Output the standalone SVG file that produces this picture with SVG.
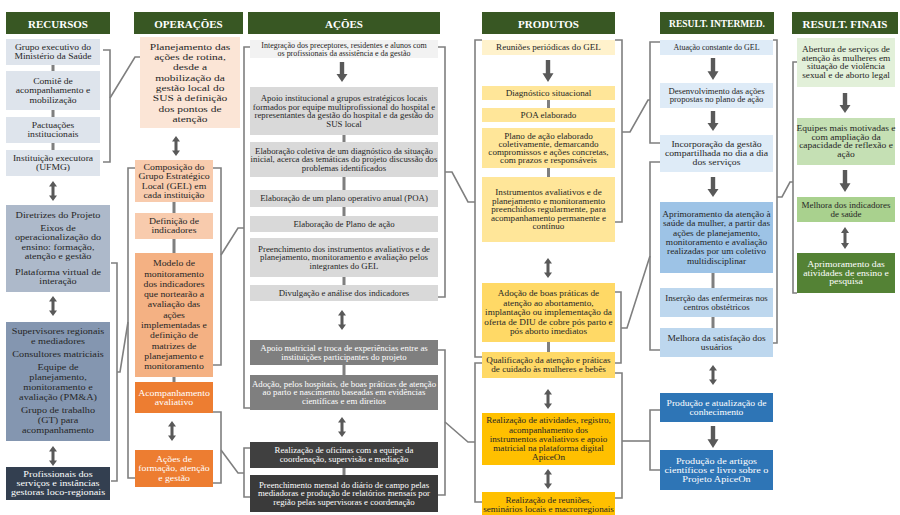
<svg xmlns="http://www.w3.org/2000/svg" width="900" height="515" viewBox="0 0 900 515">
<defs>
<style>
.bx text{font-family:"Liberation Serif","Times New Roman",serif;text-anchor:middle;dominant-baseline:central;fill:#262626}
.bx text.w{fill:#fff}
.hd rect{fill:#385723}
.hd text{font-family:"Liberation Serif","Times New Roman",serif;font-weight:bold;fill:#fff;text-anchor:middle;dominant-baseline:central;font-size:11px}
.fr{font-size:8px}
.fr2{font-size:8.5px}
.fo{font-size:8.5px}
.fa{font-size:7.8px}
.fa1{font-size:7.4px}
.fp{font-size:7.6px}
.fi{font-size:7.4px}
.fi2{font-size:7.8px}
.fi3{font-size:8px}
.ff{font-size:7.5px}
.br path{fill:none;stroke:#7f7f7f;stroke-width:1.6}
.bar{fill:#7f7f7f}
.arr{fill:#595959}
</style>
<path id="dn" d="M-2.2,0H2.2V12H5.5L0,20L-5.5,12H-2.2Z"/>
<path id="dbl" d="M0,0L4,5.5H1.5V14.5H4L0,20L-4,14.5H-1.5V5.5H-4Z"/>
</defs>
<rect width="900" height="515" fill="#fff"/>

<!-- column headers -->
<g id="headers" class="hd">
<g id="h-recursos"><rect x="6" y="12" width="104" height="22"/><text x="58" y="23.5">RECURSOS</text></g>
<g id="h-operacoes"><rect x="134" y="12" width="109" height="22"/><text x="188.5" y="23.5">OPERAÇÕES</text></g>
<g id="h-acoes"><rect x="248" y="12" width="192" height="22"/><text x="344" y="23.5">AÇÕES</text></g>
<g id="h-produtos"><rect x="482" y="12" width="133" height="22"/><text x="548.5" y="23.5">PRODUTOS</text></g>
<g id="h-intermed"><rect x="660" y="12" width="114" height="22"/><text x="717" y="23.5" style="font-size:9.5px">RESULT.  INTERMED.</text></g>
<g id="h-finais"><rect x="792" y="12" width="106" height="22"/><text x="845" y="23.5">RESULT. FINAIS</text></g>
</g>

<!-- connectors: brackets, links, bars and arrows -->
<g id="connectors">
<g class="br">
<path d="M103,50H110V162H103"/>
<path d="M110,98L135,57H140"/>
<path d="M111,263H117V481H111"/>
<path d="M117,372H120L128,322"/>
<path d="M135,168H128V478H135"/>
<path d="M213,168H221V365H213"/>
<path d="M221,255L238,228H244"/>
<path d="M213,412H221V483H213"/>
<path d="M221,450L238,473H244"/>
<path d="M250,47H244V408H250"/>
<path d="M250,448H244V497H250"/>
<path d="M438,47H445V297H438"/>
<path d="M445,172H452L468,202H475"/>
<path d="M438,350H445V495H438"/>
<path d="M445,422L468,442H475"/>
<path d="M482,40H475V357H482"/>
<path d="M482,363H475V502H482"/>
<path d="M615,40H622V222H615"/>
<path d="M622,132H630L648,100H650"/>
<path d="M615,292H621V363H615"/>
<path d="M621,328H627L650,256"/>
<path d="M615,373H622V498H615"/>
<path d="M622,441H650"/>
<path d="M660,42H650V143H660"/>
<path d="M660,162H650V350H660"/>
<path d="M660,410H650V470H660"/>
<path d="M773,40H777V343H773"/>
<path d="M777,197H782L790,182H793"/>
<path d="M797,62H793V293H797"/>
</g>
<g>
<rect class="bar" x="51.5" y="65" width="3" height="6"/>
<rect class="bar" x="51.5" y="110" width="3" height="7"/>
<rect class="bar" x="51.5" y="143" width="3" height="7"/>
<rect class="bar" x="172.5" y="202" width="3" height="11"/>
<rect class="bar" x="172.5" y="239" width="3" height="14"/>
<rect class="bar" x="172.5" y="377" width="3" height="5"/>
<rect class="bar" x="342.5" y="135" width="3" height="7"/>
<rect class="bar" x="342.5" y="177" width="3" height="13"/>
<rect class="bar" x="342.5" y="207" width="3" height="9"/>
<rect class="bar" x="342.5" y="277" width="3" height="8"/>
<rect class="bar" x="342.5" y="365" width="3" height="10"/>
<rect class="bar" x="342.5" y="468" width="3" height="7"/>
<rect class="bar" x="547" y="100" width="3" height="8"/>
<rect class="bar" x="547" y="168" width="3" height="9"/>
<rect class="bar" x="547" y="342" width="3" height="10"/>
<rect class="bar" x="711.5" y="273" width="3" height="15"/>
<rect class="bar" x="711.5" y="317" width="3" height="11"/>
</g>
<g class="arr">
<use href="#dbl" transform="translate(53,181)"/>
<use href="#dbl" transform="translate(53,296)"/>
<use href="#dbl" transform="translate(53,446)"/>
<use href="#dbl" transform="translate(176,136)"/>
<use href="#dbl" transform="translate(172,421)"/>
<use href="#dn" transform="translate(342,62)"/>
<use href="#dbl" transform="translate(342,310)"/>
<use href="#dbl" transform="translate(342,417)"/>
<use href="#dn" transform="translate(548,60) scale(1,1.1)"/>
<use href="#dbl" transform="translate(548,258)"/>
<use href="#dbl" transform="translate(548,389)"/>
<use href="#dbl" transform="translate(548,469)"/>
<use href="#dn" transform="translate(713,58) scale(1,1.1)"/>
<use href="#dn" transform="translate(713,111)"/>
<use href="#dn" transform="translate(713,177)"/>
<use href="#dbl" transform="translate(713,365)"/>
<use href="#dn" transform="translate(713,426) scale(1,1.1)"/>
<use href="#dn" transform="translate(845,93)"/>
<use href="#dn" transform="translate(845,170) scale(1,1.1)"/>
<use href="#dbl" transform="translate(845,227) scale(1,1.1)"/>
</g>
</g>

<!-- RECURSOS -->
<g class="bx">
<g id="r1"><rect x="6" y="39" width="94" height="26" fill="#dee4ec"/><text class="fr" transform="translate(53 0) scale(1.2 1)"><tspan x="0" y="47.5">Grupo executivo do</tspan><tspan x="0" y="56.5">Ministério da Saúde</tspan></text></g>
<g id="r2"><rect x="6" y="71" width="94" height="39" fill="#dee4ec"/><text class="fr" transform="translate(53 0) scale(1.2 1)"><tspan x="0" y="81">Comitê de</tspan><tspan x="0" y="90.5">acompanhamento e</tspan><tspan x="0" y="100">mobilização</tspan></text></g>
<g id="r3"><rect x="6" y="117" width="94" height="26" fill="#dee4ec"/><text class="fr" transform="translate(53 0) scale(1.2 1)"><tspan x="0" y="125.5">Pactuações</tspan><tspan x="0" y="134.5">institucionais</tspan></text></g>
<g id="r4"><rect x="6" y="150" width="94" height="26" fill="#dee4ec"/><text class="fr" transform="translate(53 0) scale(1.2 1)"><tspan x="0" y="158.5">Instituição executora</tspan><tspan x="0" y="167.5">(UFMG)</tspan></text></g>
<g id="r5"><rect x="6" y="205" width="104" height="87" fill="#adb9ca"/><text class="fr2" transform="translate(58 0) scale(1.2 1)"><tspan x="0" y="215">Diretrizes do Projeto</tspan><tspan x="0" y="228">Eixos de</tspan><tspan x="0" y="237.5">operacionalização do</tspan><tspan x="0" y="247">ensino: formação,</tspan><tspan x="0" y="256.5">atenção e gestão</tspan><tspan x="0" y="272">Plataforma virtual de</tspan><tspan x="0" y="281.5">interação</tspan></text></g>
<g id="r6"><rect x="6" y="322" width="104" height="119" fill="#8496b0"/><text class="fr2" transform="translate(58 0) scale(1.2 1)"><tspan x="0" y="331">Supervisores regionais</tspan><tspan x="0" y="341">e mediadores</tspan><tspan x="0" y="354">Consultores matriciais</tspan><tspan x="0" y="367">Equipe de</tspan><tspan x="0" y="377">planejamento,</tspan><tspan x="0" y="387">monitoramento e</tspan><tspan x="0" y="397">avaliação (PM&amp;A)</tspan><tspan x="0" y="410">Grupo de trabalho</tspan><tspan x="0" y="420">(GT) para</tspan><tspan x="0" y="430">acompanhamento</tspan></text></g>
<g id="r7"><rect x="6" y="467" width="104" height="33" fill="#333f50"/><text class="fr2 w" transform="translate(58 0) scale(1.2 1)"><tspan x="0" y="474.5">Profissionais dos</tspan><tspan x="0" y="483.5">serviços e instâncias</tspan><tspan x="0" y="492.5">gestoras loco-regionais</tspan></text></g>
</g>

<!-- OPERAÇÕES -->
<g class="bx">
<g id="o1"><rect x="140" y="37" width="100" height="91" fill="#fbe5d6"/><text class="fo" transform="translate(190 0) scale(1.35 1)"><tspan x="0" y="46.5">Planejamento das</tspan><tspan x="0" y="56.8">ações de rotina,</tspan><tspan x="0" y="67.1">desde a</tspan><tspan x="0" y="77.4">mobilização da</tspan><tspan x="0" y="87.7">gestão local do</tspan><tspan x="0" y="98">SUS à definição</tspan><tspan x="0" y="108.3">dos pontos de</tspan><tspan x="0" y="118.6">atenção</tspan></text></g>
<g id="o2"><rect x="135" y="160" width="78" height="42" fill="#f8cbad"/><text class="fo" transform="translate(174 0) scale(1.15 1)"><tspan x="0" y="166.8">Composição do</tspan><tspan x="0" y="176.3">Grupo Estratégico</tspan><tspan x="0" y="185.8">Local (GEL) em</tspan><tspan x="0" y="195.3">cada instituição</tspan></text></g>
<g id="o3"><rect x="135" y="213" width="78" height="26" fill="#f8cbad"/><text class="fo" transform="translate(174 0) scale(1.15 1)"><tspan x="0" y="221.5">Definição de</tspan><tspan x="0" y="230.5">indicadores</tspan></text></g>
<g id="o4"><rect x="135" y="253" width="78" height="124" fill="#f4b183"/><text class="fo" transform="translate(174 0) scale(1.15 1)"><tspan x="0" y="263.5">Modelo de</tspan><tspan x="0" y="273.8">monitoramento</tspan><tspan x="0" y="284.1">dos indicadores</tspan><tspan x="0" y="294.4">que nortearão a</tspan><tspan x="0" y="304.7">avaliação das</tspan><tspan x="0" y="315">ações</tspan><tspan x="0" y="325.3">implementadas e</tspan><tspan x="0" y="335.6">definição de</tspan><tspan x="0" y="345.9">matrizes de</tspan><tspan x="0" y="356.2">planejamento e</tspan><tspan x="0" y="366.5">monitoramento</tspan></text></g>
<g id="o5"><rect x="135" y="382" width="78" height="31" fill="#ed7d31"/><text class="fo w" transform="translate(174 0) scale(1.15 1)"><tspan x="0" y="393">Acompanhamento</tspan><tspan x="0" y="402">avaliativo</tspan></text></g>
<g id="o6"><rect x="135" y="450" width="78" height="37" fill="#ed7d31"/><text class="fo w" transform="translate(174 0) scale(1.15 1)"><tspan x="0" y="459">Ações de</tspan><tspan x="0" y="468.5">formação, atenção</tspan><tspan x="0" y="478">e gestão</tspan></text></g>
</g>

<!-- AÇÕES -->
<g class="bx">
<g id="a1"><rect x="250" y="40" width="188" height="18" fill="#f2f2f2"/><text class="fa1" transform="translate(344 0) scale(1.08 1)"><tspan x="0" y="45.2">Integração dos preceptores, residentes e alunos com</tspan><tspan x="0" y="52.8">os profissionais da assistência e da gestão</tspan></text></g>
<g id="a2"><rect x="250" y="87" width="188" height="48" fill="#d9d9d9"/><text class="fa" transform="translate(344 0) scale(1.13 1)"><tspan x="0" y="98">Apoio institucional a grupos estratégicos locais</tspan><tspan x="0" y="106.7">formados por equipe multiprofissional do hospital e</tspan><tspan x="0" y="115.4">representantes da gestão do hospital e da gestão do</tspan><tspan x="0" y="124.1">SUS local</tspan></text></g>
<g id="a3"><rect x="250" y="142" width="188" height="35" fill="#d9d9d9"/><text class="fa" transform="translate(344 0) scale(1.13 1)"><tspan x="0" y="150.8">Elaboração coletiva de um diagnóstico da situação</tspan><tspan x="0" y="159.5">inicial, acerca das temáticas do projeto discussão dos</tspan><tspan x="0" y="168.2">problemas identificados</tspan></text></g>
<g id="a4"><rect x="250" y="190" width="188" height="17" fill="#d9d9d9"/><text class="fa" transform="translate(344 0) scale(1.13 1)"><tspan x="0" y="198.5">Elaboração de um plano operativo anual (POA)</tspan></text></g>
<g id="a5"><rect x="250" y="216" width="188" height="16" fill="#d9d9d9"/><text class="fa" transform="translate(344 0) scale(1.13 1)"><tspan x="0" y="224">Elaboração de Plano de ação</tspan></text></g>
<g id="a6"><rect x="250" y="238" width="188" height="39" fill="#d9d9d9"/><text class="fa" transform="translate(344 0) scale(1.13 1)"><tspan x="0" y="248.8">Preenchimento dos instrumentos avaliativos e de</tspan><tspan x="0" y="257.5">planejamento, monitoramento e avaliação  pelos</tspan><tspan x="0" y="266.2">integrantes do GEL</tspan></text></g>
<g id="a7"><rect x="250" y="285" width="188" height="16" fill="#d9d9d9"/><text class="fa" transform="translate(344 0) scale(1.13 1)"><tspan x="0" y="293">Divulgação e análise dos indicadores</tspan></text></g>
<g id="a8"><rect x="250" y="340" width="188" height="25" fill="#7f7f7f"/><text class="fa w" transform="translate(344 0) scale(1.13 1)"><tspan x="0" y="348.2">Apoio matricial e troca de experiências entre as</tspan><tspan x="0" y="356.8">instituições participantes do projeto</tspan></text></g>
<g id="a9"><rect x="250" y="375" width="188" height="35" fill="#7f7f7f"/><text class="fa w" transform="translate(344 0) scale(1.13 1)"><tspan x="0" y="383.8">Adoção, pelos hospitais, de boas práticas de atenção</tspan><tspan x="0" y="392.5">ao parto e nascimento baseadas em evidências</tspan><tspan x="0" y="401.2">científicas e em direitos</tspan></text></g>
<g id="a10"><rect x="250" y="442" width="188" height="26" fill="#404040"/><text class="fa w" transform="translate(344 0) scale(1.13 1)"><tspan x="0" y="450.7">Realização de oficinas com a equipe da</tspan><tspan x="0" y="459.3">coordenação, supervisão e mediação</tspan></text></g>
<g id="a11"><rect x="250" y="475" width="188" height="37" fill="#3a3a3a"/><text class="fa w" transform="translate(344 0) scale(1.13 1)"><tspan x="0" y="484.8">Preenchimento mensal do diário de campo pelas</tspan><tspan x="0" y="493.5">mediadoras e produção de relatórios mensais por</tspan><tspan x="0" y="502.2">região pelas supervisoras e coordenação</tspan></text></g>
</g>

<!-- PRODUTOS -->
<g class="bx">
<g id="p1"><rect x="482" y="40" width="133" height="15" fill="#fff2cc"/><text class="fp" transform="translate(548.5 0) scale(1.2 1)"><tspan x="0" y="47.5">Reuniões periódicas do GEL</tspan></text></g>
<g id="p2"><rect x="482" y="86" width="133" height="14" fill="#ffe699"/><text class="fp" transform="translate(548.5 0) scale(1.2 1)"><tspan x="0" y="93">Diagnóstico situacional</tspan></text></g>
<g id="p3"><rect x="482" y="108" width="133" height="14" fill="#ffe699"/><text class="fp" transform="translate(548.5 0) scale(1.2 1)"><tspan x="0" y="115">POA elaborado</tspan></text></g>
<g id="p4"><rect x="482" y="128" width="133" height="40" fill="#ffe699"/><text class="fp" transform="translate(548.5 0) scale(1.2 1)"><tspan x="0" y="135.8">Plano de ação elaborado</tspan><tspan x="0" y="143.9">coletivamente, demarcando</tspan><tspan x="0" y="152.1">compromissos e ações concretas,</tspan><tspan x="0" y="160.2">com prazos e responsáveis</tspan></text></g>
<g id="p5"><rect x="482" y="177" width="133" height="65" fill="#ffe699"/><text class="fp" transform="translate(548.5 0) scale(1.2 1)"><tspan x="0" y="192.5">Instrumentos avaliativos e de</tspan><tspan x="0" y="201">planejamento e monitoramento</tspan><tspan x="0" y="209.5">preenchidos regularmente, para</tspan><tspan x="0" y="218">acompanhamento permanente e</tspan><tspan x="0" y="226.5">contínuo</tspan></text></g>
<g id="p6"><rect x="482" y="283" width="133" height="59" fill="#ffd966"/><text class="fp" transform="translate(548.5 0) scale(1.22 1)"><tspan x="0" y="293.5">Adoção de boas práticas de</tspan><tspan x="0" y="303">atenção ao abortamento,</tspan><tspan x="0" y="312.5">implantação ou implementação da</tspan><tspan x="0" y="322">oferta de DIU de cobre pós parto e</tspan><tspan x="0" y="331.5">pós aborto imediatos</tspan></text></g>
<g id="p7"><rect x="482" y="352" width="133" height="26" fill="#ffd966"/><text class="fp" transform="translate(548.5 0) scale(1.2 1)"><tspan x="0" y="360.5">Qualificação da atenção e práticas</tspan><tspan x="0" y="369.5">de cuidado às mulheres e bebês</tspan></text></g>
<g id="p8"><rect x="482" y="413" width="133" height="52" fill="#ffc000"/><text class="fp" transform="translate(548.5 0) scale(1.2 1)"><tspan x="0" y="420.6">Realização de atividades, registro,</tspan><tspan x="0" y="429.8">acompanhamento dos</tspan><tspan x="0" y="439">instrumentos avaliativos e apoio</tspan><tspan x="0" y="448.2">matricial na plataforma digital</tspan><tspan x="0" y="457.4">ApiceOn</tspan></text></g>
<g id="p9"><rect x="482" y="492" width="133" height="26" fill="#ffc000"/><text class="fp" transform="translate(548.5 0) scale(1.2 1)"><tspan x="0" y="500">Realização de reuniões,</tspan><tspan x="0" y="509.5">seminários locais e macrorregionais</tspan></text></g>
</g>

<!-- RESULTADOS INTERMEDIÁRIOS -->
<g class="bx">
<g id="i1"><rect x="660" y="40" width="113" height="15" fill="#deebf7"/><text class="fi" transform="translate(716.5 0) scale(1.08 1)"><tspan x="0" y="47.5">Atuação constante do GEL</tspan></text></g>
<g id="i2"><rect x="660" y="83" width="113" height="25" fill="#deebf7"/><text class="fi" transform="translate(716.5 0) scale(1.17 1)"><tspan x="0" y="91.3">Desenvolvimento das ações</tspan><tspan x="0" y="99.7">propostas no plano de ação</tspan></text></g>
<g id="i3"><rect x="660" y="135" width="113" height="37" fill="#deebf7"/><text class="fi2" transform="translate(716.5 0) scale(1.25 1)"><tspan x="0" y="144.8">Incorporação da gestão</tspan><tspan x="0" y="153.5">compartilhada no dia a dia</tspan><tspan x="0" y="162.2">dos serviços</tspan></text></g>
<g id="i4"><rect x="660" y="202" width="113" height="71" fill="#9dc3e6"/><text class="fi2" transform="translate(716.5 0) scale(1.2 1)"><tspan x="0" y="214.3">Aprimoramento da atenção à</tspan><tspan x="0" y="223.6">saúde da mulher, a partir das</tspan><tspan x="0" y="232.9">ações de planejamento,</tspan><tspan x="0" y="242.2">monitoramento e avaliação</tspan><tspan x="0" y="251.5">realizadas por um coletivo</tspan><tspan x="0" y="260.8">multidisciplinar</tspan></text></g>
<g id="i5"><rect x="660" y="288" width="113" height="29" fill="#bdd7ee"/><text class="fi3" transform="translate(716.5 0) scale(1.11 1)"><tspan x="0" y="298">Inserção das enfermeiras nos</tspan><tspan x="0" y="307">centros obstétricos</tspan></text></g>
<g id="i6"><rect x="660" y="328" width="113" height="29" fill="#bdd7ee"/><text class="fi3" transform="translate(716.5 0) scale(1.18 1)"><tspan x="0" y="338">Melhora da satisfação dos</tspan><tspan x="0" y="347">usuários</tspan></text></g>
<g id="i7"><rect x="660" y="393" width="113" height="29" fill="#2e75b6"/><text class="fi3 w" transform="translate(716.5 0) scale(1.2 1)"><tspan x="0" y="403">Produção e atualização de</tspan><tspan x="0" y="412">conhecimento</tspan></text></g>
<g id="i8"><rect x="660" y="450" width="113" height="40" fill="#2e75b6"/><text class="fi3 w" transform="translate(716.5 0) scale(1.28 1)"><tspan x="0" y="461">Produção de artigos</tspan><tspan x="0" y="470">científicos e livro sobre o</tspan><tspan x="0" y="479">Projeto ApiceOn</tspan></text></g>
</g>

<!-- RESULTADOS FINAIS -->
<g class="bx">
<g id="f1"><rect x="797" y="38" width="98" height="49" fill="#e2f0d9"/><text class="ff" transform="translate(846 0) scale(1.24 1)"><tspan x="0" y="49.8">Abertura de serviços de</tspan><tspan x="0" y="58.3">atenção às mulheres em</tspan><tspan x="0" y="66.8">situação de violência</tspan><tspan x="0" y="75.3">sexual e de aborto legal</tspan></text></g>
<g id="f2"><rect x="797" y="118" width="98" height="47" fill="#c5e0b4"/><text class="ff" transform="translate(846 0) scale(1.27 1)"><tspan x="0" y="128.8">Equipes mais motivadas e</tspan><tspan x="0" y="137.3">com ampliação da</tspan><tspan x="0" y="145.8">capacidade de reflexão e</tspan><tspan x="0" y="154.3">ação</tspan></text></g>
<g id="f3"><rect x="797" y="197" width="98" height="25" fill="#a9d18e"/><text class="ff" transform="translate(846 0) scale(1.2 1)"><tspan x="0" y="205.3">Melhora dos indicadores</tspan><tspan x="0" y="213.8">de saúde</tspan></text></g>
<g id="f4"><rect x="797" y="253" width="98" height="40" fill="#548235"/><text class="ff w" transform="translate(846 0) scale(1.3 1)"><tspan x="0" y="264.5">Aprimoramento das</tspan><tspan x="0" y="273">atividades de ensino e</tspan><tspan x="0" y="281.5">pesquisa</tspan></text></g>
</g>
</svg>
